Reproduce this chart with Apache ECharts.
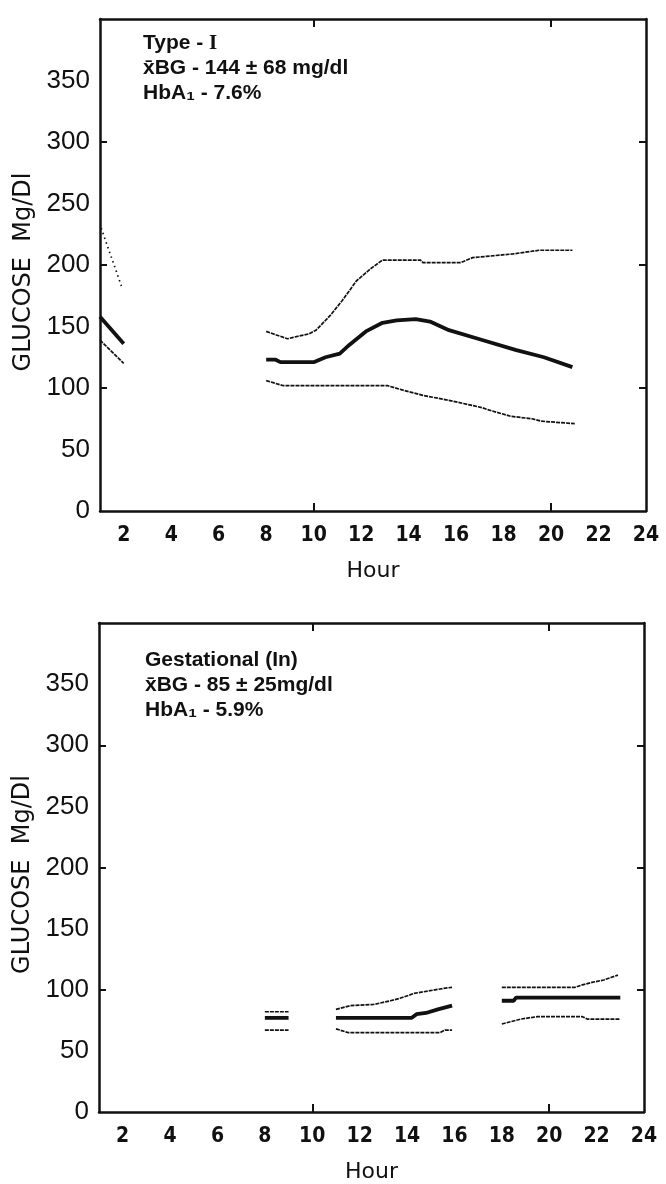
<!DOCTYPE html>
<html>
<head>
<meta charset="utf-8">
<script src="https://cdn.jsdelivr.net/npm/echarts@6/dist/echarts.min.js"></script>
</head>
<body style="margin: 0; background: #fff">
<div id="container" style="height: 1184px; width: 666px;"></div>
<script>
// x tick labels and y tick labels (both panels share them)
var hourLabels = [2, 4, 6, 8, 10, 12, 14, 16, 18, 20, 22, 24];
var hourTicks = [10, 20];
var glucoseLabels = [0, 50, 100, 150, 200, 250, 300, 350];
var glucoseTicks = [100, 200, 300];

// Type I panel, [hour, mg/dl]
var type1EarlyHigh = [[1.05, 230], [1.9, 183]];
var type1EarlyMean = [[1.0, 158], [2.0, 136]];
var type1EarlyLow = [[1.0, 139], [2.0, 120]];

var type1High = [[8.0, 146], [8.9, 140], [9.1, 141], [9.8, 144], [10.1, 147], [10.7, 159],
  [11.2, 171], [11.8, 187], [12.4, 197], [12.9, 204], [14.5, 204], [14.6, 202],
  [16.2, 202], [16.7, 206], [18.4, 209], [19.5, 212], [20.9, 212]];
var type1Mean = [[8.0, 123], [8.4, 123], [8.6, 121], [10.0, 121], [10.5, 125], [11.1, 128],
  [11.5, 135], [12.2, 146], [12.9, 153], [13.5, 155], [14.3, 156], [14.9, 154],
  [15.7, 147], [17.1, 139], [18.5, 131], [19.7, 125], [20.9, 117]];
var type1Low = [[8.0, 106], [8.7, 102], [13.1, 102], [13.8, 98], [14.6, 94], [15.7, 90],
  [17.1, 84], [17.4, 82], [18.3, 77], [19.2, 75], [19.6, 73], [21.0, 71]];

// Gestational panel, three separate recording segments
var gestHigh = [
  [[8.0, 82], [9.0, 82]],
  [[11.0, 84], [11.6, 87], [12.6, 88], [13.3, 91], [13.7, 93], [14.3, 97], [14.9, 99], [15.5, 101], [15.9, 102]],
  [[18.0, 102], [21.1, 102], [21.4, 104], [21.8, 106], [22.3, 108], [22.6, 110], [22.9, 112]]
];
var gestMean = [
  [[8.0, 77], [9.0, 77]],
  [[11.0, 77], [14.2, 77], [14.4, 80], [14.8, 81], [15.3, 84], [15.9, 87]],
  [[18.0, 91], [18.5, 91], [18.6, 93.5], [23.0, 93.5]]
];
var gestLow = [
  [[8.0, 67], [9.0, 67]],
  [[11.0, 68], [11.5, 65], [15.4, 65], [15.6, 67], [15.9, 67]],
  [[18.0, 72], [18.4, 74], [18.8, 76], [19.5, 78], [21.4, 78], [21.6, 76], [23.0, 76]]
];

var ink = '#111';
var thin = { color: ink, width: 1.7, type: [4, 1] };
var thick = { color: ink, width: 3.8 };
var dotted = { color: ink, width: 1.7, type: [1.5, 3.5] };

function bottomAxis(grid) {
  return {
    type: 'value', gridIndex: grid, min: 1, max: 24, interval: 1,
    name: 'Hour', nameLocation: 'middle', nameGap: 49,
    nameTextStyle: { fontSize: 22, color: ink, fontFamily: 'DejaVu Sans' },
    axisLine: { lineStyle: { color: ink, width: 2.5 } },
    axisTick: { inside: true, length: 8, customValues: hourTicks, lineStyle: { color: ink, width: 2 } },
    axisLabel: { customValues: hourLabels, margin: 14, fontSize: 21, fontWeight: 'bold', color: ink,
      fontFamily: '"Liberation Sans Narrow", "DejaVu Sans Condensed", sans-serif' },
    splitLine: { show: false }
  };
}
function topAxis(grid) {
  return {
    type: 'value', gridIndex: grid, position: 'top', min: 1, max: 24, interval: 1,
    axisLine: { onZero: false, lineStyle: { color: ink, width: 2.5 } },
    axisTick: { inside: true, length: 8, customValues: hourTicks, lineStyle: { color: ink, width: 2 } },
    axisLabel: { show: false },
    splitLine: { show: false }
  };
}
function leftAxis(grid) {
  return {
    type: 'value', gridIndex: grid, min: 0, max: 400, interval: 50,
    name: 'GLUCOSE  Mg/Dl', nameLocation: 'middle', nameGap: 63,
    nameTextStyle: { fontSize: 24, color: ink, fontFamily: 'DejaVu Sans', padding: [0, 14, 0, 0] },
    axisLine: { lineStyle: { color: ink, width: 2.5 } },
    axisTick: { inside: true, length: 7, customValues: glucoseTicks, lineStyle: { color: ink, width: 2 } },
    axisLabel: { customValues: glucoseLabels, margin: 10, fontSize: 26, color: ink,
      fontFamily: '"Liberation Sans", sans-serif' },
    splitLine: { show: false }
  };
}
function rightAxis(grid) {
  return {
    type: 'value', gridIndex: grid, position: 'right', min: 0, max: 400, interval: 50,
    axisLine: { show: true, onZero: false, lineStyle: { color: ink, width: 2.5 } },
    axisTick: { inside: true, length: 7, customValues: glucoseTicks, lineStyle: { color: ink, width: 2 } },
    axisLabel: { show: false },
    splitLine: { show: false }
  };
}

function line(data, style, xi, yi) {
  return { type: 'line', data: data, xAxisIndex: xi, yAxisIndex: yi, symbol: 'none',
    lineStyle: style, silent: true, animation: false, z: style === thick ? 3 : 2 };
}

var series = [
  line(type1EarlyHigh, dotted, 0, 0),
  line(type1EarlyMean, thick, 0, 0),
  line(type1EarlyLow, thin, 0, 0),
  line(type1High, thin, 0, 0),
  line(type1Mean, thick, 0, 0),
  line(type1Low, thin, 0, 0)
];
gestHigh.forEach(function (seg) { series.push(line(seg, thin, 2, 2)); });
gestMean.forEach(function (seg) { series.push(line(seg, thick, 2, 2)); });
gestLow.forEach(function (seg) { series.push(line(seg, thin, 2, 2)); });

var noteStyle = {
  fontSize: 21, fontWeight: 'bold', color: ink, lineHeight: 25,
  fontFamily: '"Liberation Sans", Arial, sans-serif',
  rich: {
    r: { fontSize: 21, fontWeight: 'bold', color: ink, lineHeight: 25, fontFamily: '"Liberation Serif", serif' }
  }
};

var option = {
  animation: false,
  title: [
    { text: 'Type - {r|I}\nx\u0304BG - 144 \u00b1 68 mg/dl\nHbA\u2081 - 7.6%', left: 143, top: 31, padding: 0, textStyle: noteStyle },
    { text: 'Gestational (In)\nx\u0304BG - 85 \u00b1 25mg/dl\nHbA\u2081 - 5.9%', left: 145, top: 648, padding: 0, textStyle: noteStyle }
  ],
  grid: [
    { left: 100, right: 20, top: 19, height: 492 },
    { left: 99, right: 22, top: 623, height: 492 }
  ],
  xAxis: [bottomAxis(0), topAxis(0), bottomAxis(1), topAxis(1)],
  yAxis: [leftAxis(0), rightAxis(0), leftAxis(1), rightAxis(1)],
  series: series
};

var myChart = echarts.init(document.getElementById('container'));
myChart.setOption(option);
</script>
</body>
</html>
